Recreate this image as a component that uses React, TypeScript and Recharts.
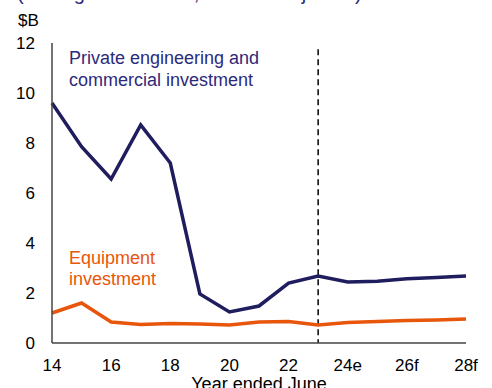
import React from "react";
import { LineChart, Line, XAxis, YAxis, ReferenceLine } from "recharts";

// Years ended June (2014 = 14 ... 2028 = 28)
const years = [14, 15, 16, 17, 18, 19, 20, 21, 22, 23, 24, 25, 26, 27, 28];
// Private engineering and commercial investment, $B
const engineering = [9.6, 7.85, 6.56, 8.72, 7.2, 1.96, 1.24, 1.48, 2.4, 2.68, 2.44, 2.47, 2.57, 2.62, 2.68];
// Equipment investment, $B
const equipment = [1.2, 1.6, 0.84, 0.74, 0.78, 0.76, 0.72, 0.84, 0.86, 0.72, 0.82, 0.86, 0.9, 0.92, 0.96];

const xTicks = [14, 16, 18, 20, 22, 24, 26, 28];
const xTickLabels = ["14", "16", "18", "20", "22", "24e", "26f", "28f"];
const yTicks = [0, 2, 4, 6, 8, 10, 12];
const forecastStart = 23;

const data = years.map((y, i) => ({ year: y, engineering: engineering[i], equipment: equipment[i] }));

const NAVY = "#1f1d5e";
const NAVY_TEXT = "#2c2a7a";
const ORANGE = "#e8560c";
const FONT = "'Liberation Sans', Arial, sans-serif";

export default function App() {
  return (
    <div style={{ position: "absolute", left: 0, top: 0, width: 492, height: 388, background: "#fff" }}>
      <LineChart
        width={492}
        height={388}
        data={data}
        margin={{ top: 43, right: 26, bottom: 0, left: 0 }}
        style={{ fontFamily: FONT }}
      >
        <XAxis
          dataKey="year"
          type="number"
          domain={[14, 28]}
          ticks={xTicks}
          tickFormatter={(v: number) => xTickLabels[xTicks.indexOf(v)] ?? String(v)}
          height={45}
          axisLine={{ stroke: "#444", strokeWidth: 1.5 }}
          tickLine={false}
          tickMargin={10}
          tick={{ fill: "#000", fontSize: 17, fontFamily: FONT }}
          interval={0}
        />
        <YAxis
          type="number"
          domain={[0, 12]}
          ticks={yTicks}
          width={52}
          axisLine={{ stroke: "#444", strokeWidth: 1.5 }}
          tickLine={false}
          tickMargin={11}
          tick={{ fill: "#000", fontSize: 17, fontFamily: FONT }}
          interval={0}
        />
        <ReferenceLine
          segment={[{ x: forecastStart, y: 11.75 }, { x: forecastStart, y: 0 }]}
          stroke="#000"
          strokeWidth={1.5}
          strokeDasharray="6 4"
        />
        <Line
          type="linear"
          dataKey="equipment"
          stroke={ORANGE}
          strokeWidth={3.5}
          dot={false}
          isAnimationActive={false}
        />
        <Line
          type="linear"
          dataKey="engineering"
          stroke={NAVY}
          strokeWidth={3.5}
          dot={false}
          isAnimationActive={false}
        />
      </LineChart>
      <svg
        width={492}
        height={388}
        style={{ position: "absolute", left: 0, top: 0, pointerEvents: "none", fontFamily: FONT }}
      >
        <text x={17} y={0} fontSize={20} fill={NAVY_TEXT}>
          (Rolling annual total, inflation adjusted)
        </text>
        <text x={18} y={26} fontSize={17} fill="#000">$B</text>
        <text x={69} y={64} fontSize={18} fill={NAVY_TEXT}>Private engineering and</text>
        <text x={69} y={86} fontSize={18} fill={NAVY_TEXT}>commercial investment</text>
        <text x={69} y={264} fontSize={18} fill={ORANGE}>Equipment</text>
        <text x={69} y={285} fontSize={18} fill={ORANGE}>investment</text>
        <text x={259} y={390} fontSize={18} fill="#000" textAnchor="middle">Year ended June</text>
      </svg>
    </div>
  );
}
